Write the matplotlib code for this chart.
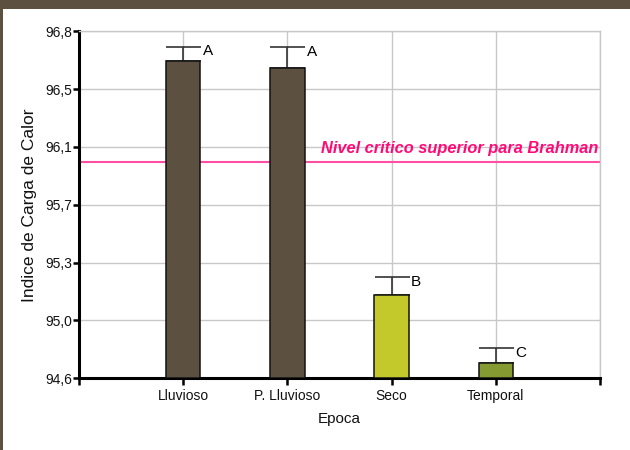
import matplotlib
matplotlib.use("Agg")
import matplotlib.pyplot as plt
from matplotlib.patches import Rectangle
from matplotlib.ticker import FixedLocator, FuncFormatter
import numpy as np

plt.rcParams['font.family'] = ['Liberation Sans', 'DejaVu Sans']

# ---- data ----
categories = ["Lluvioso", "P. Lluvioso", "Seco", "Temporal"]
values = [96.637, 96.588, 95.138, 94.705]
errors = [0.086, 0.134, 0.113, 0.092]
letters = ["A", "A", "B", "C"]
bar_colors = ["#5c5141", "#5c5141", "#c4c92b", "#869a32"]
critical_level = 95.99
critical_label = "Nivel crítico superior para Brahman"
y_ticks = [94.605 + 0.37 * k for k in range(7)]
y_min, y_max = 94.605, 96.825
x_label = "Epoca"
y_label = "Indice de Carga de Calor"

fig = plt.figure(figsize=(6.3, 4.5), dpi=100)
fig.patch.set_facecolor("white")
ax = fig.add_axes([79/630, 1 - 378.3/450, (600-79)/630, (378.3-31.3)/450])

# brown slide border (top and left)
border = "#5c5141"
fig.patches.append(Rectangle((0, 1 - 9/450), 1, 9/450, transform=fig.transFigure,
                             facecolor=border, edgecolor="none", zorder=0))
fig.patches.append(Rectangle((0, 0), 2.5/630, 1, transform=fig.transFigure,
                             facecolor=border, edgecolor="none", zorder=0))

x = np.arange(1, len(categories) + 1)
ax.set_xlim(0, len(categories) + 1)
ax.set_ylim(y_min, y_max)

# grid
ax.set_axisbelow(True)
ax.grid(True, color="#c8c8c8", linewidth=1.0)

bars = ax.bar(x, [v - y_min for v in values], bottom=y_min, width=0.33,
              color=bar_colors, edgecolor="#111111", linewidth=1.1, zorder=3)

ax.errorbar(x, values, yerr=[np.zeros(len(errors)), errors], fmt="none",
            ecolor="#333333", elinewidth=1.2, capsize=12.6, capthick=1.2, zorder=2)

for xi, v, e, lab in zip(x, values, errors, letters):
    ax.annotate(lab, xy=(xi + 0.165, v + e), xytext=(1.5, 2), textcoords="offset points",
                ha="left", va="top", fontsize=11, color="black", zorder=5)

# critical line
ax.axhline(critical_level, color="#ff4fa3", linewidth=1.5, zorder=2.5)
ax.text(len(categories) + 0.98, critical_level + 0.04, critical_label,
        ha="right", va="bottom", fontsize=11.8, fontweight="bold", fontstyle="italic",
        color="#ff0a78", zorder=5)

# ticks
ax.xaxis.set_major_locator(FixedLocator(list(range(0, len(categories) + 2))))
ax.set_xticklabels([""] + categories + [""])
ax.yaxis.set_major_locator(FixedLocator(y_ticks))
ax.yaxis.set_major_formatter(FuncFormatter(lambda v, p: f"{v:.1f}".replace(".", ",")))
ax.tick_params(axis="both", direction="out", length=5, width=1.8, color="black",
               labelsize=10, labelcolor="#111111", pad=3)
ax.tick_params(axis="y", length=4, pad=1)

for s in ["left", "bottom"]:
    ax.spines[s].set_linewidth(2.2)
    ax.spines[s].set_color("black")
for s in ["right", "top"]:
    ax.spines[s].set_linewidth(1.0)
    ax.spines[s].set_color("#c8c8c8")

ax.set_xlabel(x_label, fontsize=11, labelpad=6, color="#111111")
ax.set_ylabel(y_label, fontsize=12.5, labelpad=6, color="#111111")

fig.savefig("out.png", dpi=100)
